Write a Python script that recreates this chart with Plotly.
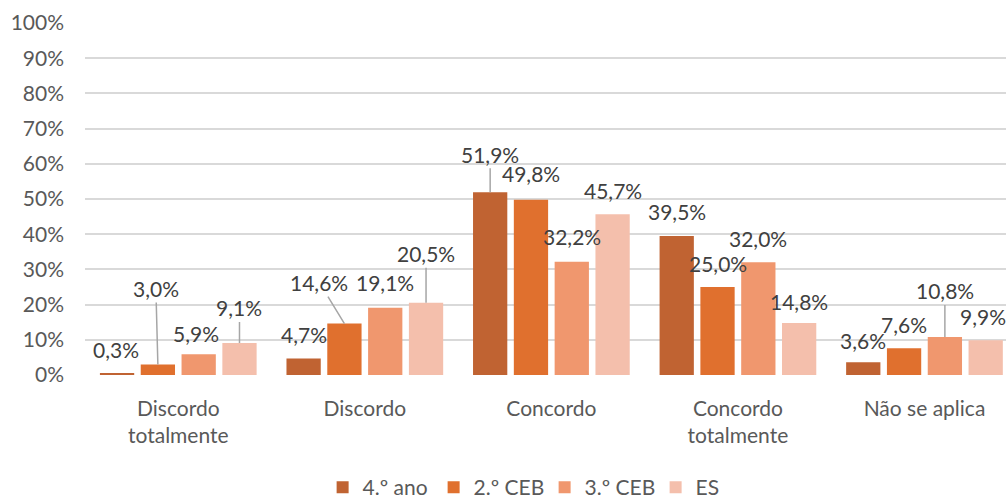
import plotly.graph_objects as go

# Response categories (x axis) and their wrapped tick labels
categories = ["Discordo totalmente", "Discordo", "Concordo", "Concordo totalmente", "Não se aplica"]
tick_labels = ["Discordo<br>totalmente", "Discordo", "Concordo", "Concordo<br>totalmente", "Não se aplica"]

# Percentages per school level
series_names = ["4.º ano", "2.º CEB", "3.º CEB", "ES"]
ano4 = [0.3, 4.7, 51.9, 39.5, 3.6]
ceb2 = [3.0, 14.6, 49.8, 25.0, 7.6]
ceb3 = [5.9, 19.1, 32.2, 32.0, 10.8]
es = [9.1, 20.5, 45.7, 14.8, 9.9]
series_values = [ano4, ceb2, ceb3, es]

colors = ["#C06332", "#E0702E", "#F0976E", "#F4BFAC"]

FONT = "Lato, Carlito, sans-serif"
FS = 21

# Label placement: (dx, dy) in pixels from the top centre of each bar to the
# centre of the label, and whether a leader line joins label and bar.
default_offset = (0, -24, False)
label_offsets = {
    (0, 0): (-1, -24, False),
    (1, 0): (-2, -76, True),
    (2, 0): (-3, -21, False),
    (3, 0): (0, -35, True),
    (1, 1): (-25, -41, True),
    (2, 1): (0, -25, False),
    (3, 1): (0, -49, True),
    (0, 2): (0, -38, True),
    (1, 2): (0, -26, False),
    (2, 2): (0, -25, False),
    (3, 3): (0, -21, False),
    (0, 4): (0, -22, False),
    (2, 4): (0, -46, True),
    (3, 4): (-3, -24, False),
}

BARGAP = 0.125
BARGROUPGAP = 0.16
n_series = len(series_values)
slot = (1 - BARGAP) / n_series


def fmt(v):
    return f"{v:.1f}".replace(".", ",") + "%"


fig = go.Figure()
for name, vals, col in zip(series_names, series_values, colors):
    fig.add_trace(go.Bar(
        name=name,
        x=categories,
        y=[v / 100 for v in vals],
        marker=dict(color=col, line=dict(width=0)),
        hoverinfo="skip",
    ))

annotations = []
for s, vals in enumerate(series_values):
    for c, v in enumerate(vals):
        dx, dy, leader = label_offsets.get((s, c), default_offset)
        xpos = c + (s - (n_series - 1) / 2) * slot
        common = dict(
            x=xpos, y=v / 100, xref="x", yref="y",
            text=fmt(v),
            font=dict(family=FONT, size=FS, color="#404040"),
            xanchor="center", yanchor="middle",
        )
        if leader:
            annotations.append(dict(
                **common, showarrow=True, ax=dx, ay=dy,
                arrowhead=0, arrowwidth=1.5, arrowcolor="#A6A6A6", standoff=0,
            ))
        else:
            annotations.append(dict(**common, showarrow=False, xshift=dx, yshift=-dy))

fig.update_layout(
    width=1006, height=498,
    margin=dict(l=85, r=0, t=23, b=123, autoexpand=False),
    paper_bgcolor="white", plot_bgcolor="white",
    barmode="group", bargap=BARGAP, bargroupgap=BARGROUPGAP,
    font=dict(family=FONT, size=FS, color="#595959"),
    showlegend=True,
    legend=dict(
        orientation="h", x=0.258, xanchor="left", y=-0.32, yanchor="middle",
        entrywidth=66, entrywidthmode="pixels",
        font=dict(family=FONT, size=FS, color="#595959"),
        traceorder="normal", itemclick=False, itemdoubleclick=False,
    ),
    annotations=annotations,
)

fig.update_xaxes(
    type="category",
    tickvals=categories, ticktext=tick_labels,
    range=[-0.5, 4.437],
    showgrid=False, showline=False, zeroline=False, ticks="",
    ticklabelstandoff=19,
    tickfont=dict(family=FONT, size=FS, color="#595959"),
)
fig.update_yaxes(
    range=[0, 1], dtick=0.1, tickformat=".0%",
    showgrid=True, gridcolor="#D9D9D9", gridwidth=1.5,
    zeroline=False, showline=False, ticks="",
    ticklabelstandoff=20,
    tickfont=dict(family=FONT, size=FS, color="#595959"),
)

fig.write_html("out.html")
